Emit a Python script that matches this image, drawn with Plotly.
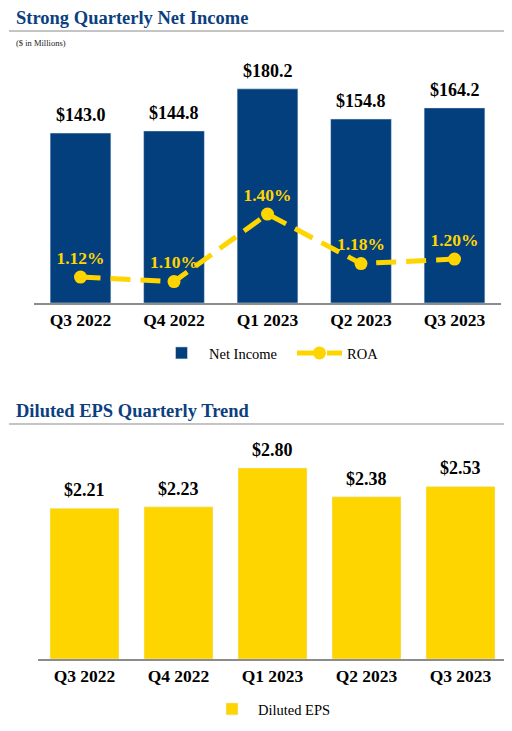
import plotly.graph_objects as go

quarters = ["Q3 2022", "Q4 2022", "Q1 2023", "Q2 2023", "Q3 2023"]
net_income = [143.0, 144.8, 180.2, 154.8, 164.2]
roa = [1.12, 1.10, 1.40, 1.18, 1.20]
eps = [2.21, 2.23, 2.80, 2.38, 2.53]

NAVY = "#033E7D"
GOLD = "#FFD500"
TITLE = "#0C3F80"
SERIF = "Liberation Serif"
OFF = 8  # page body margin
W, H = 512 - OFF, 731 - OFF

def px(x):
    return (x - OFF) / W

def py(y):
    return 1 - (y - OFF) / H

fig = go.Figure()

fig.add_trace(go.Bar(
    x=quarters, y=net_income, name="Net Income", marker_color=NAVY,
    width=0.65, xaxis="x", yaxis="y", legend="legend",
))
fig.add_trace(go.Scatter(
    x=quarters, y=roa, name="ROA", xaxis="x", yaxis="y2",
    mode="lines+markers+text",
    line=dict(color=GOLD, width=5, dash="20px,10px"),
    marker=dict(color=GOLD, size=13),
    text=[f"<b>{v:.2f}%</b>" for v in roa], textposition="top center",
    textfont=dict(family=SERIF, size=17.5, color=GOLD),
    legend="legend", cliponaxis=False,
))
fig.add_trace(go.Bar(
    x=quarters, y=eps, name="Diluted EPS", marker_color=GOLD,
    width=0.734, xaxis="x3", yaxis="y3", legend="legend2",
))

annotations = []
for q, v in zip(quarters, net_income):
    annotations.append(dict(
        x=q, y=v, xref="x", yref="y", text=f"<b>${v:.1f}</b>", showarrow=False,
        yanchor="bottom", yshift=6, font=dict(family=SERIF, size=18, color="black"),
    ))
for q, v in zip(quarters, eps):
    annotations.append(dict(
        x=q, y=v, xref="x3", yref="y3", text=f"<b>${v:.2f}</b>", showarrow=False,
        yanchor="bottom", yshift=6, font=dict(family=SERIF, size=18, color="black"),
    ))
annotations += [
    dict(x=px(14), y=py(18), xref="paper", yref="paper", xanchor="left", yanchor="middle",
         text="<b>Strong Quarterly Net Income</b>", showarrow=False,
         font=dict(family=SERIF, size=18.5, color=TITLE)),
    dict(x=px(14), y=py(43), xref="paper", yref="paper", xanchor="left", yanchor="middle",
         text="($ in Millions)", showarrow=False,
         font=dict(family=SERIF, size=8.5, color="#222")),
    dict(x=px(14), y=py(411), xref="paper", yref="paper", xanchor="left", yanchor="middle",
         text="<b>Diluted EPS Quarterly Trend</b>", showarrow=False,
         font=dict(family=SERIF, size=18.5, color=TITLE)),
]

shapes = [
    dict(type="line", xref="paper", yref="paper", x0=px(9), x1=1, y0=py(31), y1=py(31),
         line=dict(color="#C4C4C4", width=2)),
    dict(type="line", xref="paper", yref="paper", x0=px(9), x1=1, y0=py(424), y1=py(424),
         line=dict(color="#C4C4C4", width=2)),
]

tickfont = dict(family=SERIF, size=17.5, color="black", weight="bold")

fig.update_layout(
    width=W, height=H, margin=dict(l=0, r=0, t=0, b=0),
    paper_bgcolor="white", plot_bgcolor="white",
    showlegend=True,
    annotations=annotations, shapes=shapes,
    xaxis=dict(domain=[px(33.75), px(501.25)], showline=True, linecolor="#8C8C8C", linewidth=2,
               tickfont=tickfont, ticks="", showgrid=False, anchor="y"),
    yaxis=dict(domain=[py(303), py(60)], range=[0, 204.5], visible=False, showgrid=False),
    yaxis2=dict(overlaying="y", range=[1.005, 2.084], visible=False, showgrid=False),
    xaxis3=dict(domain=[px(37.5), px(507.5)], showline=True, linecolor="#8C8C8C", linewidth=2,
                tickfont=tickfont, ticks="", showgrid=False, anchor="y3"),
    yaxis3=dict(domain=[py(659), py(440)], range=[0, 3.21], visible=False, showgrid=False),
    legend=dict(orientation="h", x=px(292), y=py(353), xanchor="center", yanchor="middle",
                itemwidth=45, entrywidth=78,
                font=dict(family=SERIF, size=14.5, color="black"), bgcolor="rgba(0,0,0,0)"),
    legend2=dict(orientation="h", x=px(271), y=py(709), xanchor="center", yanchor="middle",
                 itemwidth=42,
                 font=dict(family=SERIF, size=14.5, color="black"), bgcolor="rgba(0,0,0,0)"),
)

fig.write_html("out.html")
